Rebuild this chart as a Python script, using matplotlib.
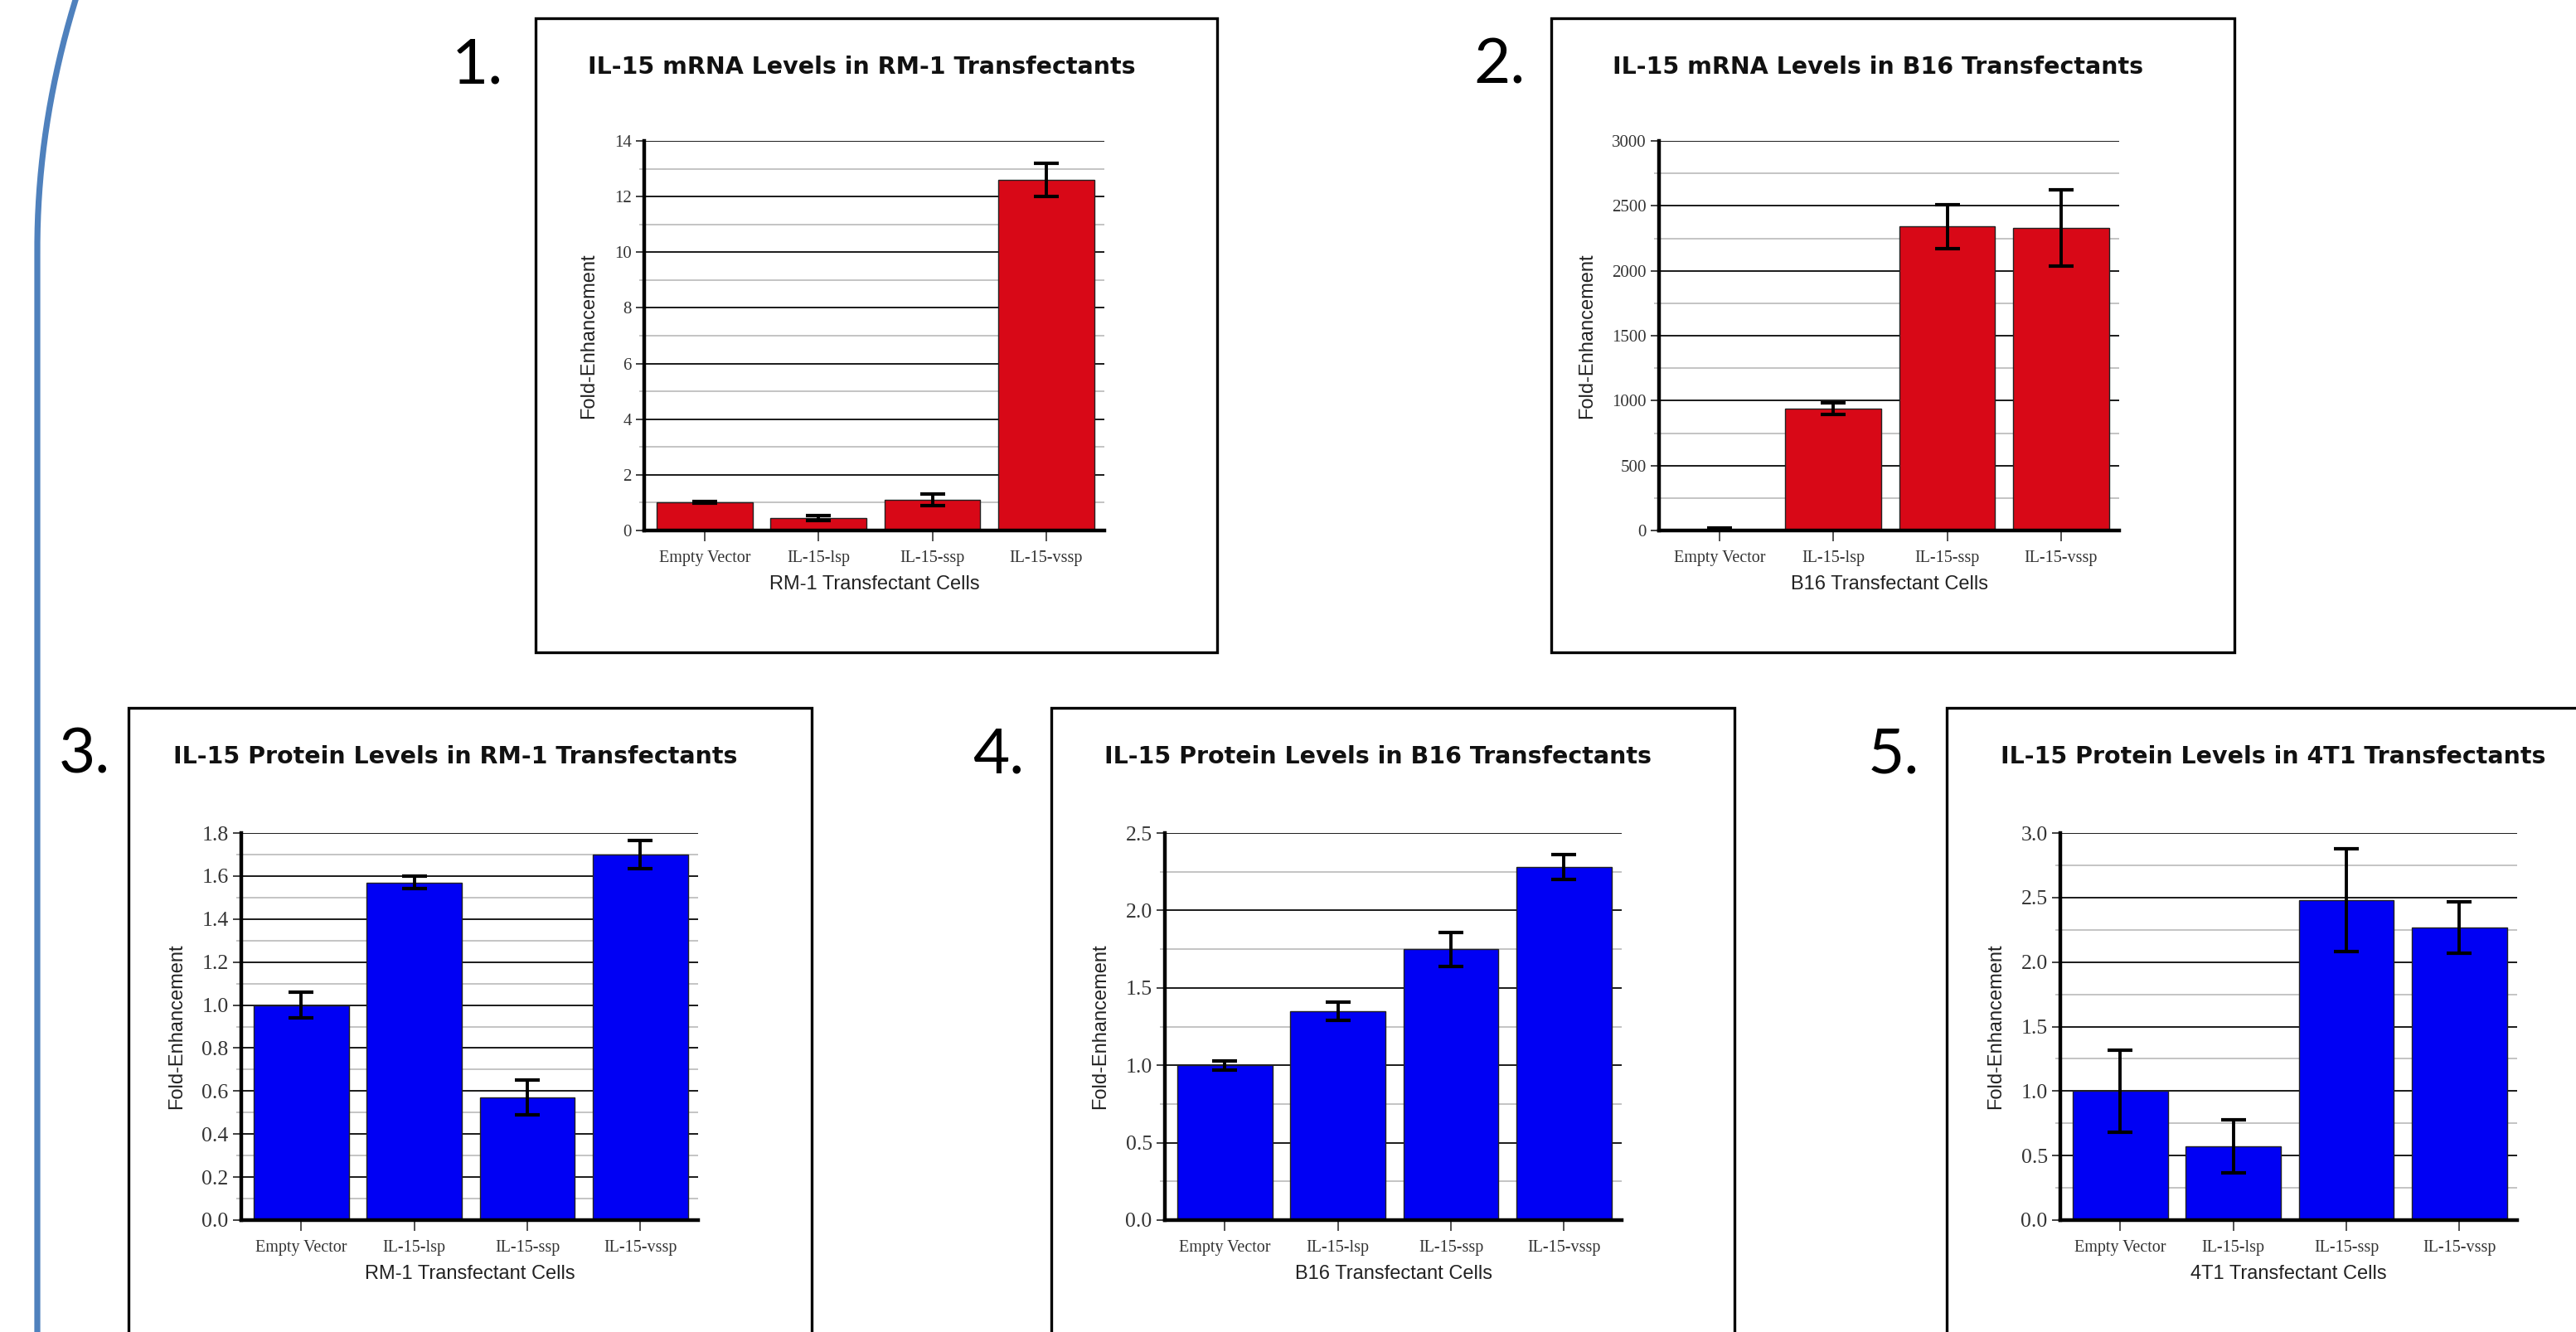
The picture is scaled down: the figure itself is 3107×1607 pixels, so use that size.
"""Five IL-15 bar panels (mRNA + protein fold-enhancement) laid out like a slide."""

import numpy as np
import matplotlib
matplotlib.use("Agg")
import matplotlib.pyplot as plt
from matplotlib.patches import Rectangle
from matplotlib.lines import Line2D
from matplotlib.ticker import MultipleLocator, FormatStrFormatter

W, H = 3107, 1607

CATEGORIES = ["Empty Vector", "IL-15-lsp", "IL-15-ssp", "IL-15-vssp"]

RM1_MRNA = [1.0, 0.45, 1.1, 12.6]
RM1_MRNA_ERR = [0.03, 0.1, 0.2, 0.6]
B16_MRNA = [1.0, 936.0, 2340.0, 2330.0]
B16_MRNA_ERR = [20.0, 45.0, 170.0, 295.0]
RM1_PROT = [1.0, 1.57, 0.57, 1.70]
RM1_PROT_ERR = [0.06, 0.03, 0.08, 0.065]
B16_PROT = [1.0, 1.35, 1.75, 2.28]
B16_PROT_ERR = [0.03, 0.06, 0.11, 0.08]
T41_PROT = [1.0, 0.57, 2.48, 2.27]
T41_PROT_ERR = [0.32, 0.205, 0.40, 0.20]

TITLES = ["IL-15 mRNA Levels in RM-1 Transfectants",
          "IL-15 mRNA Levels in B16 Transfectants",
          "IL-15 Protein Levels in RM-1 Transfectants",
          "IL-15 Protein Levels in B16 Transfectants",
          "IL-15 Protein Levels in 4T1 Transfectants"]
XLABELS = ["RM-1 Transfectant Cells", "B16 Transfectant Cells",
           "RM-1 Transfectant Cells", "B16 Transfectant Cells",
           "4T1 Transfectant Cells"]
NUMBERS = ["1.", "2.", "3.", "4.", "5."]

RED = "#d80817"
BLUE = "#0000f4"

# per panel: data, err, colour, ymax, major, minor, tick format, ytick size,
# frame (l, t, r, b) px, axes (l, t, r, b) px, number x px
PANELS = [
    (RM1_MRNA, RM1_MRNA_ERR, RED, 14, 2, 1, "%d", 15, (646, 22, 1468, 787), (777, 170, 1332, 640), 545),
    (B16_MRNA, B16_MRNA_ERR, RED, 3000, 500, 250, "%d", 15, (1871, 22, 2695, 787), (2001, 170, 2556, 640), 1777),
    (RM1_PROT, RM1_PROT_ERR, BLUE, 1.8, 0.2, 0.1, "%.1f", 18.5, (155, 854, 979, 1640), (291, 1005, 842, 1472), 71),
    (B16_PROT, B16_PROT_ERR, BLUE, 2.5, 0.5, 0.25, "%.1f", 18.5, (1268, 854, 2092, 1640), (1405, 1005, 1956, 1472), 1173),
    (T41_PROT, T41_PROT_ERR, BLUE, 3.0, 0.5, 0.25, "%.1f", 18.5, (2348, 854, 3172, 1640), (2485, 1005, 3036, 1472), 2253),
]


def fx(x):
    return x / W


def fy(y):
    return 1 - y / H


fig = plt.figure(figsize=(W / 100, H / 100), dpi=100)
fig.patch.set_facecolor("white")

# blue bracket on the left edge
yy = np.linspace(0, H + 10, 400)
xx = np.where(yy < 300, 45 + 46 * (1 - yy / 300) ** 2, 45)
fig.add_artist(Line2D(fx(xx), fy(yy), color="#4f81bd", lw=5.2, transform=fig.transFigure))

x = np.arange(len(CATEGORIES))
for i, (vals, errs, col, ymax, major, minor, fmt, ysize, frame, box, numx) in enumerate(PANELS):
    fl, ft, fr, fb = frame
    fig.add_artist(Rectangle((fx(fl), fy(fb)), fx(fr - fl), (fb - ft) / H, fill=False,
                             ec="black", lw=2.4, transform=fig.transFigure))
    fig.text(fx(numx), fy(ft + 57), NUMBERS[i], fontsize=55, family="Lato",
             ha="left", va="center")
    fig.text(fx((fl + fr) / 2 - 18), fy(ft + 59), TITLES[i], fontsize=20.5,
             family="DejaVu Sans", weight="bold", ha="center", va="center", color="#111111")

    al, at, ar, ab = box
    ax = fig.add_axes([fx(al), fy(ab), fx(ar - al), (ab - at) / H])
    ax.set_axisbelow(True)
    ax.bar(x, vals, width=0.84, color=col, edgecolor="#222222", lw=1.0, zorder=2)
    ax.errorbar(x, vals, yerr=errs, fmt="none", ecolor="black", elinewidth=2.8,
                capsize=11, capthick=3.0, zorder=3)
    ax.set_xlim(-0.53, 3.51)
    ax.set_ylim(0, ymax)
    ax.yaxis.set_major_locator(MultipleLocator(major))
    ax.yaxis.set_minor_locator(MultipleLocator(minor))
    ax.yaxis.set_major_formatter(FormatStrFormatter(fmt))
    ax.grid(axis="y", which="major", color="#1a1a1a", lw=1.4)
    ax.grid(axis="y", which="minor", color="#c4c4c4", lw=1.4)
    ax.set_xticks(x)
    ax.set_xticklabels(CATEGORIES, family="Liberation Serif", fontsize=14.5, color="#333333")
    for lab in ax.get_yticklabels():
        lab.set_family("Liberation Serif")
        lab.set_fontsize(ysize)
        lab.set_color("#333333")
    ax.tick_params(axis="x", length=9, width=1.3, color="#444444", pad=8)
    ax.tick_params(axis="y", which="major", length=7, width=1.3, color="#333333", pad=4)
    ax.tick_params(axis="y", which="minor", length=4, width=1.2, color="#bbbbbb")
    for side in ("top", "right"):
        ax.spines[side].set_visible(False)
    for side in ("left", "bottom"):
        ax.spines[side].set_linewidth(3.2)
        ax.spines[side].set_color("black")
    ax.set_ylabel("Fold-Enhancement", family="Liberation Sans", fontsize=17, labelpad=14,
                  color="#222222")
    ax.set_xlabel(XLABELS[i], family="Liberation Sans", fontsize=17, labelpad=8,
                  color="#222222")

fig.savefig("out.png", dpi=100, facecolor="white")
